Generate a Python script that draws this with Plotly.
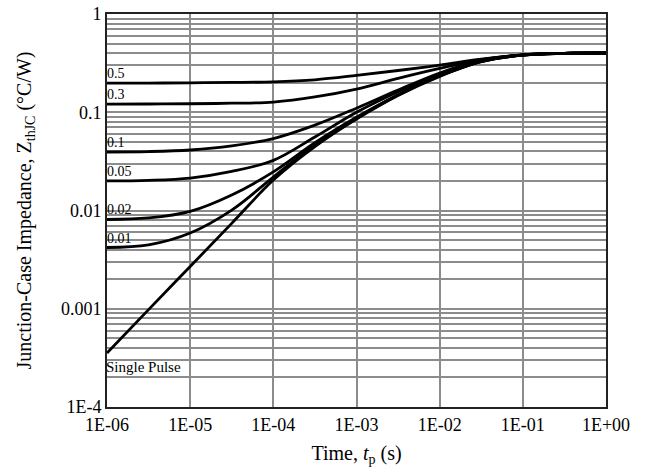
import math
import plotly.graph_objects as go

t = [1e-6, 3.16e-6, 1e-5, 3.16e-5, 1e-4, 3.16e-4, 1e-3, 3.16e-3, 1e-2, 3.16e-2, 1e-1, 3.16e-1, 1.0]

z_d05 = [0.198, 0.198, 0.1995, 0.201, 0.204, 0.214, 0.237, 0.266, 0.302, 0.347, 0.382, 0.398, 0.401]
z_d03 = [0.121, 0.1213, 0.122, 0.1236, 0.127, 0.143, 0.172, 0.221, 0.279, 0.343, 0.383, 0.398, 0.401]
z_d01 = [0.0394, 0.0398, 0.0413, 0.0455, 0.054, 0.074, 0.110, 0.168, 0.251, 0.339, 0.384, 0.398, 0.401]
z_d005 = [0.0200, 0.0203, 0.0214, 0.0250, 0.0324, 0.056, 0.100, 0.162, 0.244, 0.333, 0.383, 0.398, 0.401]
z_d002 = [0.0081, 0.0084, 0.0098, 0.0144, 0.0247, 0.049, 0.089, 0.151, 0.236, 0.329, 0.382, 0.398, 0.401]
z_d001 = [0.0042, 0.00447, 0.0059, 0.0101, 0.0219, 0.0468, 0.087, 0.150, 0.234, 0.328, 0.382, 0.398, 0.401]
z_single = [0.000355, 0.00098, 0.00269, 0.0074, 0.0204, 0.0447, 0.0851, 0.148, 0.232, 0.327, 0.381, 0.398, 0.401]

series = [
    ("0.5", z_d05),
    ("0.3", z_d03),
    ("0.1", z_d01),
    ("0.05", z_d005),
    ("0.02", z_d002),
    ("0.01", z_d001),
    ("Single Pulse", z_single),
]

x_ticks = [1e-6, 1e-5, 1e-4, 1e-3, 1e-2, 1e-1, 1]
x_ticklabels = ["1E-06", "1E-05", "1E-04", "1E-03", "1E-02", "1E-01", "1E+00"]
y_ticks = [1e-4, 1e-3, 1e-2, 1e-1, 1]
y_ticklabels = ["1E-4", "0.001", "0.01", "0.1", "1"]

FONT = "Liberation Serif, Times New Roman, serif"

fig = go.Figure()
for name, z in series:
    fig.add_trace(go.Scatter(x=t, y=z, mode="lines", name=name,
                             line=dict(color="black", width=2.8, shape="spline", smoothing=1.0),
                             showlegend=False, hoverinfo="skip"))

for name, z in series:
    if name == "Single Pulse":
        fig.add_annotation(x=math.log10(t[0]), y=math.log10(z[0]), xref="x", yref="y",
                           text=name, showarrow=False, xanchor="left", yanchor="top",
                           yshift=-4, xshift=-3,
                           font=dict(family=FONT, size=15, color="black"))
    else:
        fig.add_annotation(x=math.log10(t[0]), y=math.log10(z[0]), xref="x", yref="y",
                           text=name, showarrow=False, xanchor="left", yanchor="bottom",
                           yshift=0, xshift=-2,
                           font=dict(family=FONT, size=14, color="black"))

grid_color = "#8c8c8c"
fig.update_xaxes(type="log", range=[-6, 0], tickvals=x_ticks, ticktext=x_ticklabels,
                 showgrid=True, gridcolor=grid_color, gridwidth=1.5,
                 showline=True, linecolor="#222", linewidth=2, mirror=True,
                 ticks="", zeroline=False, automargin=False,
                 tickfont=dict(family=FONT, size=18, color="black"),
                 title=dict(text="Time, <i>t</i><sub>p</sub> (s)",
                            font=dict(family=FONT, size=20, color="black"), standoff=12))
fig.update_yaxes(type="log", range=[-4, 0], tickvals=y_ticks, ticktext=y_ticklabels,
                 showgrid=True, gridcolor=grid_color, gridwidth=1.5,
                 minor=dict(dtick="D1", showgrid=True, gridcolor=grid_color, gridwidth=1.5, ticks=""),
                 showline=True, linecolor="#222", linewidth=2, mirror=True,
                 ticks="", zeroline=False, automargin=False,
                 tickfont=dict(family=FONT, size=18, color="black"),
                 title=dict(text="Junction-Case Impedance, Z<sub>thJC</sub> (°C/W)",
                            font=dict(family=FONT, size=20, color="black"), standoff=24))

fig.update_layout(width=646, height=473, margin=dict(l=107, r=40, t=14, b=66),
                  paper_bgcolor="white", plot_bgcolor="white")

fig.write_html("out.html")
